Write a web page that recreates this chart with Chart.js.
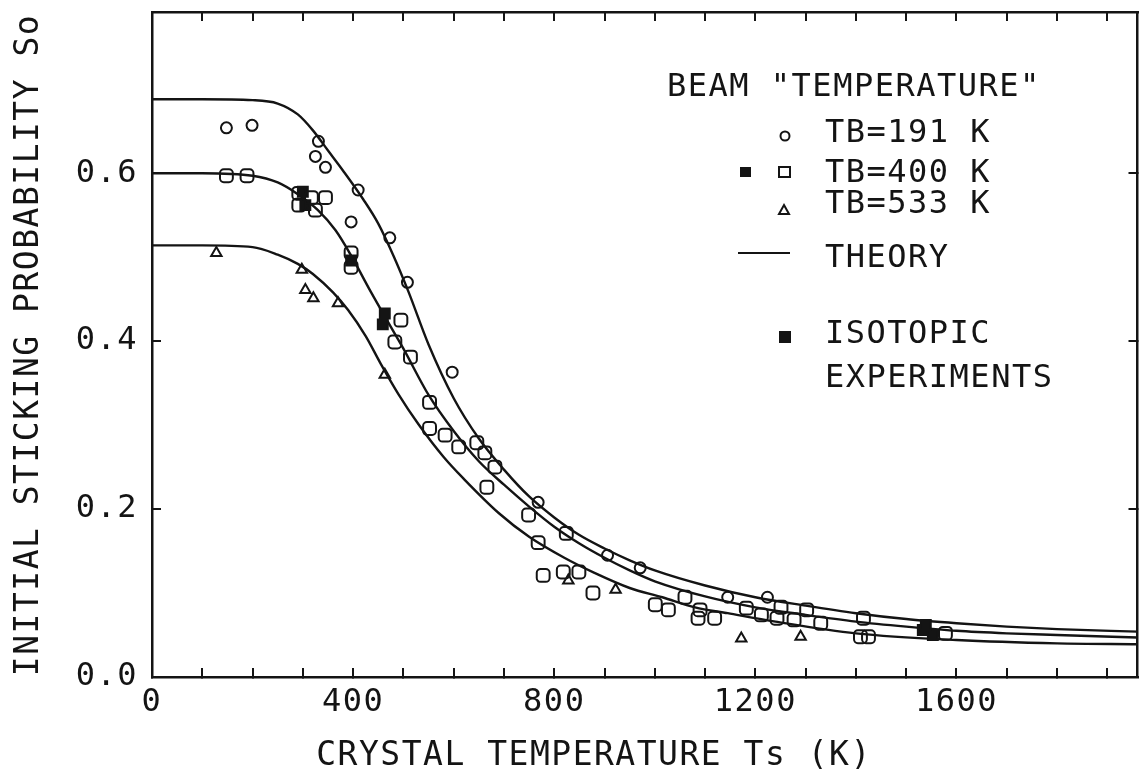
<!DOCTYPE html>
<html><head><meta charset="utf-8">
<script src="https://cdn.jsdelivr.net/npm/chart.js@4/dist/chart.umd.min.js"></script>
<style>html,body{margin:0;padding:0;background:#fff}#wrap{width:1147px;height:778px}</style>
</head><body><div id="wrap"><canvas id="c" width="1147" height="778"></canvas></div>
<script>
const FONT = '"DejaVu Sans Mono", monospace';

// Theory curves
const theory191X = [0,100,200,250,290,320,350,380,420,450,480,510,550,600,650,700,750,800,850,900,950,1000,1100,1200,1300,1400,1500,1600,1700,1800,1960];
const theory191Y = [0.688,0.688,0.687,0.683,0.670,0.651,0.627,0.603,0.569,0.540,0.502,0.459,0.396,0.332,0.284,0.247,0.215,0.190,0.169,0.153,0.139,0.127,0.109,0.095,0.085,0.076,0.069,0.064,0.060,0.057,0.054];
const theory400X = [0,100,200,250,290,330,365,395,435,475,500,550,600,650,700,750,800,850,900,950,1000,1100,1200,1300,1400,1500,1600,1700,1800,1960];
const theory400Y = [0.600,0.600,0.597,0.589,0.575,0.556,0.532,0.503,0.459,0.417,0.391,0.336,0.293,0.257,0.229,0.203,0.179,0.159,0.142,0.127,0.114,0.096,0.083,0.074,0.066,0.060,0.055,0.052,0.050,0.047];
const theory533X = [0,100,200,250,290,320,360,390,425,455,490,530,580,620,690,750,820,880,950,1015,1080,1145,1240,1400,1600,1800,1960];
const theory533Y = [0.514,0.514,0.512,0.503,0.492,0.480,0.458,0.437,0.406,0.373,0.337,0.301,0.262,0.236,0.195,0.167,0.142,0.124,0.106,0.095,0.083,0.076,0.066,0.052,0.044,0.040,0.039];

// Measured points
const tb191X = [148,199,331,325,345,410,396,473,508,597,768,906,971,1145,1224];
const tb191Y = [0.654,0.657,0.638,0.620,0.607,0.580,0.542,0.523,0.470,0.363,0.208,0.145,0.130,0.095,0.095];
const tb400X = [148,189,292,317,345,292,325,396,396,495,483,514,552,552,583,610,646,662,682,666,749,824,768,778,818,849,877,1001,1027,1060,1090,1086,1119,1182,1212,1251,1243,1277,1302,1330,1415,1409,1425,1578];
const tb400Y = [0.597,0.597,0.576,0.571,0.571,0.562,0.556,0.505,0.488,0.425,0.399,0.381,0.327,0.296,0.288,0.274,0.279,0.267,0.250,0.226,0.193,0.171,0.160,0.121,0.125,0.125,0.100,0.086,0.080,0.095,0.080,0.070,0.070,0.082,0.074,0.083,0.070,0.068,0.080,0.064,0.070,0.048,0.048,0.052];
const tb533X = [128,298,305,321,370,463,828,922,1172,1290];
const tb533Y = [0.505,0.485,0.461,0.451,0.445,0.360,0.115,0.104,0.046,0.048];
const isoX = [305,300,396,463,459,1533,1553,1539];
const isoY = [0.562,0.578,0.496,0.433,0.420,0.056,0.050,0.062];

const xTickValues = [0,400,800,1200,1600];
const xTitle = 'CRYSTAL TEMPERATURE Ts (K)';
const yTitle = 'INITIAL STICKING PROBABILITY So';
const legendTitle = 'BEAM "TEMPERATURE"';
const legendLabels = ['TB=191 K','TB=400 K','TB=533 K','THEORY','ISOTOPIC','EXPERIMENTS'];

function xy(xs, ys){ return xs.map((x,i)=>({x:x, y:ys[i]})); }
const INK = '#141414';

function lineDs(xs, ys){
  return {type:'line', data:xy(xs,ys), borderColor:INK, borderWidth:2.4, pointRadius:0, showLine:true,
    fill:false, cubicInterpolationMode:'monotone', order:10};
}
function ptDs(xs, ys, style, r, filled){
  return {type:'scatter', data:xy(xs,ys), pointStyle:style, pointRadius:r, pointHoverRadius:r,
    borderColor:INK, borderWidth:2, backgroundColor: filled? INK : 'rgba(0,0,0,0)', showLine:false, order:1};
}

const textPlugin = {
  id:'textPlugin',
  beforeDraw(chart){ chart.ctx.letterSpacing = '1.5px'; },
  afterDraw(chart){
    const ctx = chart.ctx;
    ctx.save();
    ctx.fillStyle = INK; ctx.strokeStyle = INK;
    ctx.letterSpacing = '1.5px';
    ctx.font = '32px ' + FONT;
    ctx.textAlign = 'left'; ctx.textBaseline = 'alphabetic';
    ctx.fillText(legendTitle, 667, 96);
    const tx = 825;
    const rows = [142,182,213,267,343,387];
    legendLabels.forEach((t,i)=>ctx.fillText(t, tx, rows[i]));
    ctx.lineWidth = 2;
    ctx.beginPath(); ctx.arc(785,136,4.5,0,Math.PI*2); ctx.stroke();
    ctx.beginPath(); ctx.rect(779,167,11,10); ctx.stroke();
    ctx.fillRect(740,167,11,10);
    ctx.beginPath(); ctx.moveTo(784,205); ctx.lineTo(789,214); ctx.lineTo(779,214); ctx.closePath(); ctx.stroke();
    ctx.beginPath(); ctx.moveTo(738,253); ctx.lineTo(790,253); ctx.stroke();
    ctx.fillRect(779,331,12,12);
    ctx.font = '33px ' + FONT;
    ctx.textAlign = 'center'; ctx.textBaseline = 'middle';
    ctx.fillText(xTitle, 594, 756);
    ctx.translate(29, 345); ctx.rotate(-Math.PI/2);
    ctx.fillText(yTitle, 0, 0);
    ctx.restore();
  }
};

function noPad(s){ s.paddingTop = 0; s.paddingBottom = 0; s.paddingLeft = 0; s.paddingRight = 0; }

const tickFont = {family:FONT, size:32};
new Chart(document.getElementById('c'), {
  data:{datasets:[
    lineDs(theory191X, theory191Y),
    lineDs(theory400X, theory400Y),
    lineDs(theory533X, theory533Y),
    ptDs(tb191X, tb191Y, 'circle', 5.5, false),
    ptDs(tb400X, tb400Y, 'rectRounded', 7.5, false),
    ptDs(tb533X, tb533Y, 'triangle', 6, false),
    ptDs(isoX, isoY, 'rect', 7, true)
  ]},
  options:{
    responsive:false, animation:false, devicePixelRatio:1,
    layout:{padding:{top:12,left:0,right:0,bottom:0}},
    plugins:{legend:{display:false}, tooltip:{enabled:false}},
    scales:{
      x:{type:'linear', position:'bottom', min:0, max:1960,
        ticks:{stepSize:100, autoSkip:false, includeBounds:false, maxRotation:0, padding:15, color:INK, font:tickFont,
          callback:(v)=> xTickValues.includes(v) ? String(v) : ''},
        grid:{drawOnChartArea:false, tickLength:-9, color:INK, lineWidth:2},
        border:{color:INK, width:2.5},
        afterFit:(s)=>{ s.height = 101; noPad(s); }
      },
      x2:{type:'linear', position:'top', min:0, max:1960,
        ticks:{stepSize:100, autoSkip:false, includeBounds:false, display:false},
        grid:{drawOnChartArea:false, tickLength:-9, color:INK, lineWidth:2},
        border:{color:INK, width:2.5},
        afterFit:(s)=>{ s.height = 0; noPad(s); }
      },
      y:{type:'linear', position:'left', min:0, max:0.792,
        ticks:{stepSize:0.2, includeBounds:false, padding:23, color:INK, font:tickFont,
          callback:(v)=> v.toFixed(1)},
        grid:{drawOnChartArea:false, tickLength:-9, color:INK, lineWidth:2},
        border:{color:INK, width:2.5},
        afterFit:(s)=>{ s.width = 152; noPad(s); }
      },
      y2:{type:'linear', position:'right', min:0, max:0.792,
        ticks:{stepSize:0.2, includeBounds:false, display:false},
        grid:{drawOnChartArea:false, tickLength:-9, color:INK, lineWidth:2},
        border:{color:INK, width:2.5},
        afterFit:(s)=>{ s.width = 1; noPad(s); }
      }
    }
  },
  plugins:[textPlugin]
});
</script></body></html>
